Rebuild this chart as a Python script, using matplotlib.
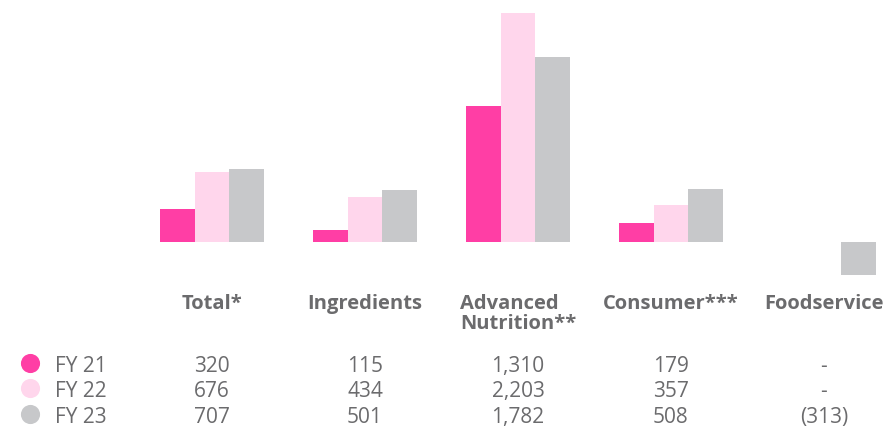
import matplotlib.pyplot as plt
import matplotlib.transforms as mtransforms
import numpy as np

categories = ["Total*", "Ingredients", "Advanced\nNutrition**", "Consumer***", "Foodservice"]
series = ["FY 21", "FY 22", "FY 23"]
fy21 = [320, 115, 1310, 179, 0]
fy22 = [676, 434, 2203, 357, 0]
fy23 = [707, 501, 1782, 508, -313]
fy21_txt = ["320", "115", "1,310", "179", "-"]
fy22_txt = ["676", "434", "2,203", "357", "-"]
fy23_txt = ["707", "501", "1,782", "508", "(313)"]

colors = ["#FF3EA5", "#FFD6EC", "#C7C8CA"]
text_col = "#6B6B6D"

plt.rcParams['font.family'] = ['Open Sans', 'DejaVu Sans']

W, H = 895, 427
fig = plt.figure(figsize=(W / 100, H / 100), dpi=100)
ax = fig.add_axes([0, 0, 1, 1])

# pixel layout: group centres at 212 + 153*i, baseline at y=243
step = 153.0
x0 = 212.0
ax.set_xlim(-x0 / step, (W - x0) / step)
k = 229 / 2203.0
base = 243.0
ax.set_ylim(-(H - base) / k, base / k)
ax.axis("off")

x = np.arange(len(categories))
bw = 34.5 / step
for j, vals in enumerate([fy21, fy22, fy23]):
    ax.bar(x + (j - 1) * bw, vals, width=bw, color=colors[j], linewidth=0)

trans = mtransforms.blended_transform_factory(ax.transData, ax.transAxes)

def fy(py):
    return 1 - py / H

for i, c in enumerate(categories):
    ax.text(i, fy(294), c, transform=trans, ha="center", va="top",
            fontsize=14.5, fontweight="bold", color=text_col, linespacing=1.0,
            multialignment="left")

rows_y = [367, 392, 418]
for r, txts in enumerate([fy21_txt, fy22_txt, fy23_txt]):
    for i, t in enumerate(txts):
        ax.text(i, fy(rows_y[r]), t, transform=trans, ha="center", va="center",
                fontsize=15, color=text_col)
    ax.scatter([30 / W], [fy(rows_y[r] - 3)], s=190, color=colors[r], transform=ax.transAxes,
               clip_on=False, linewidth=0)
    ax.text(55 / W, fy(rows_y[r]), series[r], transform=ax.transAxes, ha="left",
            va="center", fontsize=15, color=text_col)

fig.savefig("out.png", dpi=100)
